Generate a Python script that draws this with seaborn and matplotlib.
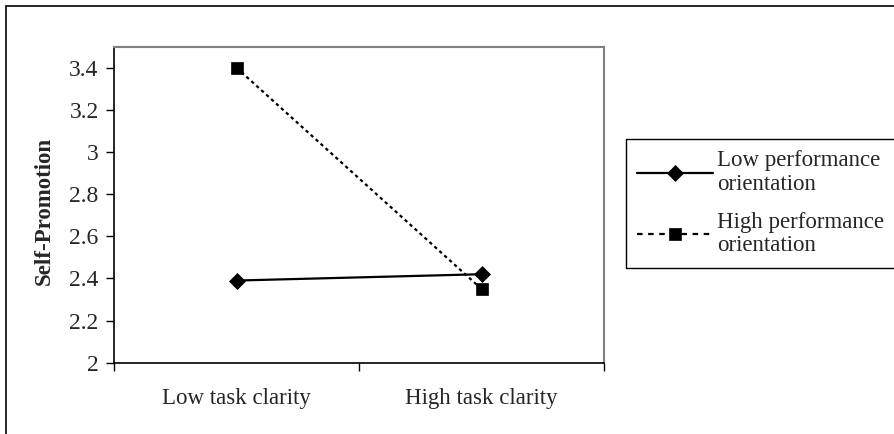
import matplotlib
matplotlib.use("Agg")
import matplotlib.pyplot as plt
import seaborn as sns
import pandas as pd
from matplotlib.patches import Rectangle
from matplotlib.ticker import FixedLocator

categories = ["Low task clarity", "High task clarity"]
low_perf = [2.39, 2.42]
high_perf = [3.40, 2.35]
series_names = ["Low performance\norientation", "High performance\norientation"]
y_ticks = [2, 2.2, 2.4, 2.6, 2.8, 3, 3.2, 3.4]
y_label = "Self-Promotion"

df = pd.DataFrame({
    "clarity": categories * 2,
    "value": low_perf + high_perf,
    "series": [series_names[0]] * 2 + [series_names[1]] * 2,
})

sns.set_theme(style="white")
plt.rcParams["font.family"] = ["Liberation Serif", "DejaVu Serif"]

fig = plt.figure(figsize=(8.94, 4.34), dpi=100)
W, H = 894, 434
ax = fig.add_axes([114 / W, 1 - 362.7 / H, (604 - 114) / W, (362.7 - 46.7) / H])

sns.lineplot(
    data=df, x="clarity", y="value", hue="series", style="series",
    palette=["black", "black"],
    markers={series_names[0]: "D", series_names[1]: "s"},
    dashes={series_names[0]: "", series_names[1]: (1.5, 1.5)},
    markersize=8, linewidth=1.6, markeredgecolor="black", markeredgewidth=0.5,
    sort=False, ax=ax, legend=True,
)

ax.set_xlim(-0.5, 1.5)
ax.set_ylim(2, 3.5)
ax.set_yticks(y_ticks)
ax.set_yticklabels([f"{v:g}" for v in y_ticks])
ax.set_xlabel("")
ax.set_ylabel(y_label, fontsize=16.5, fontweight="bold")
ax.yaxis.set_label_coords(-0.12, 0.48)

ax.tick_params(axis="y", which="major", direction="out", length=6, width=1,
               color="black", left=True, labelsize=17, pad=5)
ax.tick_params(axis="x", which="major", length=0, labelsize=16.5, pad=18)
ax.xaxis.set_minor_locator(FixedLocator([-0.5, 0.5, 1.5]))
ax.tick_params(axis="x", which="minor", direction="out", length=6, width=1,
               color="black", bottom=True)

for side in ["left", "bottom"]:
    ax.spines[side].set_color("black")
    ax.spines[side].set_linewidth(1.2)
for side in ["top", "right"]:
    ax.spines[side].set_color("#808080")
    ax.spines[side].set_linewidth(1.5)
    ax.spines[side].set_visible(True)

handles, labels = ax.get_legend_handles_labels()
leg = ax.legend(
    handles, labels,
    loc="upper left", bbox_to_anchor=(626 / W, 1 - 139 / H),
    bbox_transform=fig.transFigure,
    frameon=True, fancybox=False, edgecolor="black", framealpha=1,
    fontsize=16.5, handlelength=3.3, handletextpad=0.17,
    labelspacing=0.75, borderpad=0.5, borderaxespad=0,
)
leg.get_frame().set_linewidth(1.0)
for t in leg.get_texts():
    t.set_linespacing(1.15)
for h in leg.legend_handles:
    h.set_markersize(8)
    if h.get_linestyle() != "-":
        h.set_dashes((2.5, 2.5))

fig.add_artist(Rectangle((5.5 / W, -0.05), 1.2, 1 - 5.5 / H + 0.05,
                         transform=fig.transFigure, fill=False,
                         edgecolor="black", linewidth=1.2, clip_on=False))

fig.savefig("out.png", dpi=100)
